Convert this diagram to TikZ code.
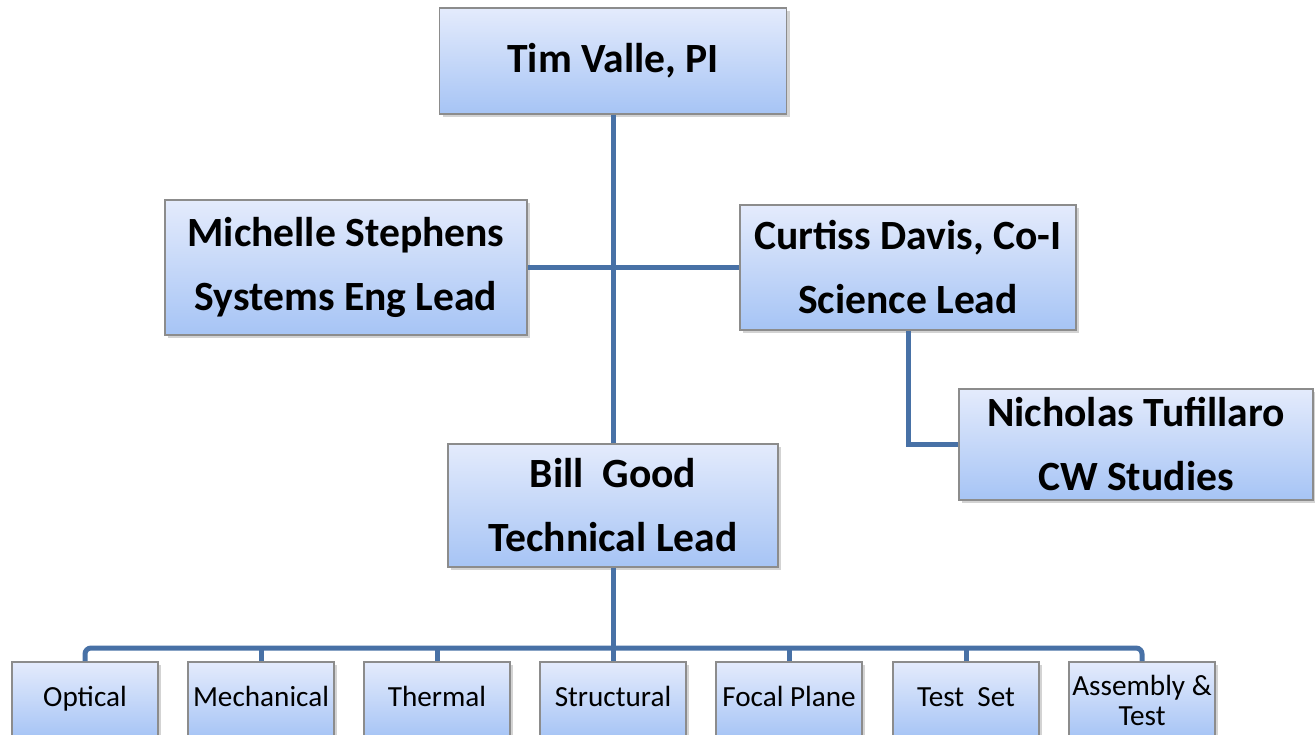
\documentclass[tikz,border=0pt]{standalone}
\usepackage{fontspec}
\setmainfont{Carlito}
\usetikzlibrary{shadows}
\definecolor{boxtop}{RGB}{228,235,252}
\definecolor{boxbot}{RGB}{166,196,245}
\definecolor{boxline}{RGB}{140,140,140}
\definecolor{orgline}{RGB}{72,113,166}
\begin{document}
\begin{tikzpicture}[x=0.5pt, y=-0.5pt,
    person/.style={draw=boxline, line width=0.8pt, top color=boxtop, bottom color=boxbot,
        drop shadow={opacity=0.35, shadow xshift=1.5pt, shadow yshift=-1.5pt},
        inner sep=0pt, align=center, font=\fontsize{20.8}{32}\selectfont\bfseries},
    team/.style={person, minimum width=73pt, minimum height=38pt,
        text height=10pt, text depth=3.5pt, font=\fontsize{14.6}{15}\selectfont},
    orglink/.style={draw=orgline, line width=2.5pt}]
    \useasboundingbox (0,0) rectangle (1315,734);

    \node[person, minimum width=173.5pt, minimum height=53pt] (pi) at (613,61) {Tim Valle, PI};
    \node[person, minimum width=181pt, minimum height=67.5pt] (syseng) at (346,267.5) {Michelle Stephens\\Systems Eng Lead};
    \node[person, minimum width=168pt, minimum height=62.5pt] (sci) at (908,267.5) {Curtiss Davis, Co-I\\Science Lead};
    \node[person, minimum width=177pt, minimum height=55.5pt] (cw) at (1136,444.5) {Nicholas Tufillaro\\CW Studies};
    \node[person, minimum width=165pt, minimum height=61.5pt] (tech) at (613,505.5) {Bill\ \ Good\\Technical Lead};

    % subsystem row
    \node[team] (optical) at (85,700) {Optical};
    \node[team] (mech) at (261,700) {Mechanical};
    \node[team] (thermal) at (437,700) {Thermal};
    \node[team] (struct) at (613,700) {Structural};
    \node[team] (focal) at (789,700) {Focal Plane};
    \node[team] (testset) at (966,700) {Test\ \ Set};
    \node[team, text height={}, text depth={}] (assembly) at (1142,700) {Assembly \&\\Test};

    \coordinate (bus) at (613,648);

    \draw[orglink] (pi.south) -- (tech.north);
    \draw[orglink] (syseng.east) -- (sci.west);
    \draw[orglink] (sci.south) |- (cw.west);
    \draw[orglink] (tech.south) -- (bus);
    \draw[orglink, rounded corners=3pt] (optical.north) |- (bus) -| (assembly.north);
    \foreach \t in {mech,thermal,struct,focal,testset}
        \draw[orglink] (\t.north) -- (\t.north |- bus);
\end{tikzpicture}
\end{document}
